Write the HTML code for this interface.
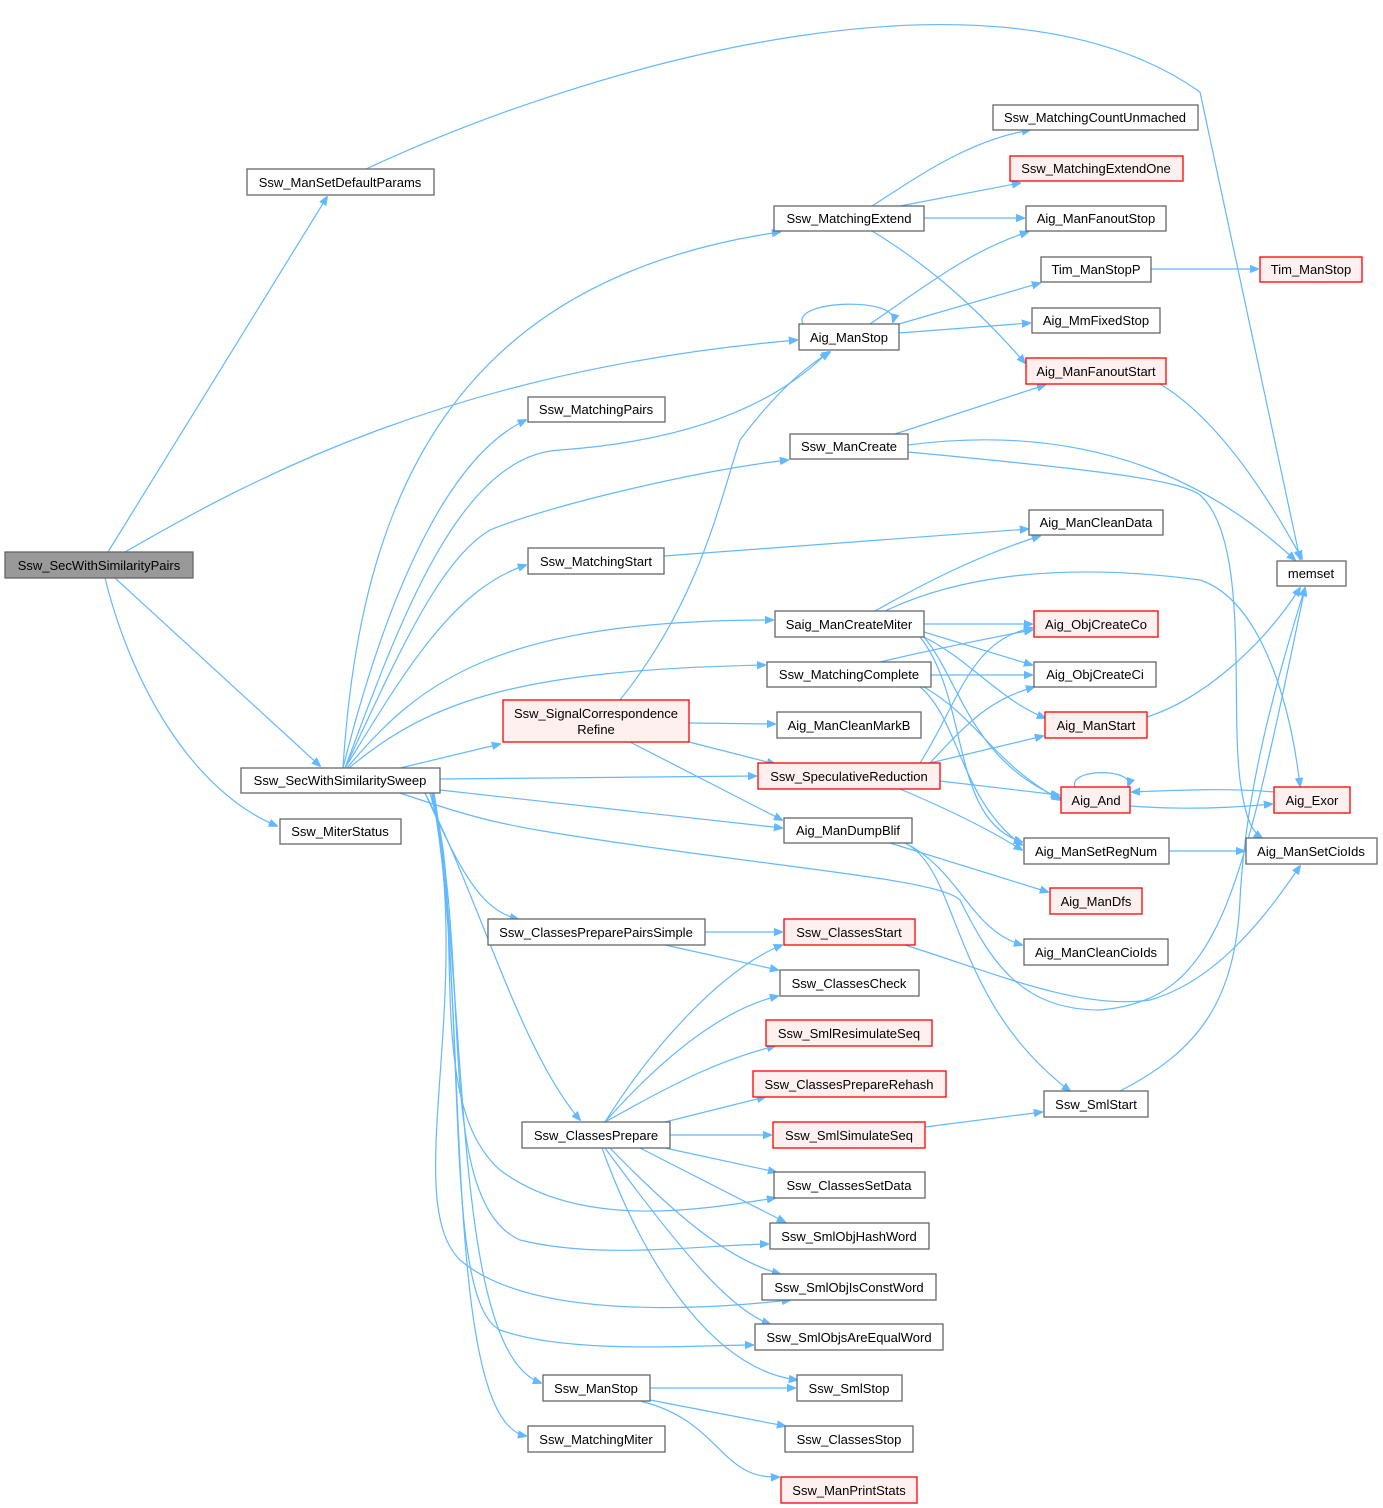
<!DOCTYPE html>
<html><head><meta charset="utf-8"><style>
html,body{margin:0;padding:0;background:#fff;}
svg{display:block;}
text{font-family:"Liberation Sans",Arial,sans-serif;font-size:13px;fill:#000;}
.n{fill:#fff;stroke:#666;stroke-width:1.3;}
.r{fill:#fff0f0;stroke:#ff0000;stroke-width:1.3;}
.g{fill:#999;stroke:#666;stroke-width:1.3;}
path{fill:none;stroke:#63b8ff;stroke-width:1.2;}
</style></head><body>
<svg width="1383" height="1508" viewBox="0 0 1383 1508" xmlns="http://www.w3.org/2000/svg">
<defs><marker id="a" viewBox="0 0 10 10" refX="9" refY="5" markerWidth="9" markerHeight="9" orient="auto" markerUnits="userSpaceOnUse"><path d="M0,1 L10,5 L0,9 z" style="fill:#63b8ff;stroke:#63b8ff"/></marker></defs>
<g marker-end="url(#a)">
<path d="M108,552 L327,197"/>
<path d="M125,552 C250,480 450,370 797,340"/>
<path d="M115,578 L320,766"/>
<path d="M105,578 C130,680 190,790 277,826"/>
<path d="M366,169 C600,60 1000,-50 1200,92 L1300,559"/>
<path d="M343,768 C360,500 450,280 780,232"/>
<path d="M345,768 C400,620 460,455 560,450 C700,440 780,400 828,352"/>
<path d="M343,768 C380,620 440,460 526,420"/>
<path d="M345,768 C400,650 440,560 490,530 C550,505 700,470 788,460"/>
<path d="M345,768 C400,680 450,590 526,565"/>
<path d="M347,768 C420,680 500,620 773,620"/>
<path d="M349,768 C430,700 520,670 765,665"/>
<path d="M400,768 L500,744"/>
<path d="M440,779 L756,776"/>
<path d="M440,790 L782,828"/>
<path d="M400,793 C480,820 500,825 600,840 C800,870 940,880 960,900 C990,960 1020,1010 1100,1010 C1220,1000 1240,900 1305,588"/>
<path d="M425,793 C460,870 480,910 518,919"/>
<path d="M425,793 C480,900 520,1050 580,1120"/>
<path d="M430,793 C470,900 420,1100 500,1170 C580,1230 700,1210 775,1198"/>
<path d="M430,793 C475,950 430,1200 520,1240 C600,1260 700,1245 768,1244"/>
<path d="M432,793 C475,1000 400,1200 460,1260 C530,1320 700,1310 790,1300"/>
<path d="M432,793 C470,1000 440,1300 500,1330 C570,1355 700,1345 753,1345"/>
<path d="M433,793 C470,1000 450,1350 541,1383"/>
<path d="M434,793 C470,1000 440,1420 526,1436"/>
<path d="M620,700 C700,600 720,500 740,440 C770,400 800,370 830,352"/>
<path d="M689,723 L775,724"/>
<path d="M689,742 L775,764"/>
<path d="M630,742 L782,820"/>
<path d="M872,206 C920,175 970,140 1030,130"/>
<path d="M900,206 L1020,183"/>
<path d="M924,218 L1024,218"/>
<path d="M872,231 C920,260 970,300 1025,363"/>
<path d="M803,324 C790,300 900,296 893,322"/>
<path d="M870,324 C920,290 970,250 1028,232"/>
<path d="M899,324 L1040,283"/>
<path d="M899,333 L1030,323"/>
<path d="M1151,269 L1258,269"/>
<path d="M1160,384 C1220,420 1270,500 1302,559"/>
<path d="M895,434 L1045,385"/>
<path d="M908,445 C1100,420 1220,490 1295,560"/>
<path d="M908,452 C1100,470 1180,480 1200,495 C1250,540 1230,700 1240,780 C1245,815 1250,830 1262,838"/>
<path d="M664,556 L1028,529"/>
<path d="M875,611 C930,580 980,555 1040,536"/>
<path d="M885,611 C950,580 1050,560 1200,580 C1260,600 1290,700 1300,786"/>
<path d="M924,624 L1032,624"/>
<path d="M924,632 L1032,665"/>
<path d="M924,637 C970,660 1000,700 1045,718"/>
<path d="M924,637 C960,680 970,760 1060,798"/>
<path d="M920,637 C970,700 950,820 1022,842"/>
<path d="M880,662 C930,650 980,640 1032,630"/>
<path d="M931,675 L1032,675"/>
<path d="M924,687 C980,720 990,760 1060,800"/>
<path d="M920,687 C960,720 960,800 1022,845"/>
<path d="M1147,717 C1200,700 1260,650 1300,588"/>
<path d="M920,763 C960,700 970,640 1032,628"/>
<path d="M930,763 C970,720 990,700 1034,687"/>
<path d="M930,763 L1043,736"/>
<path d="M940,781 L1059,795"/>
<path d="M900,789 C950,810 990,830 1022,850"/>
<path d="M1075,787 C1068,768 1135,768 1128,786"/>
<path d="M1130,806 C1180,810 1230,808 1272,804"/>
<path d="M1274,792 C1230,788 1180,790 1132,792"/>
<path d="M1169,851 L1244,851"/>
<path d="M890,843 L1048,892"/>
<path d="M905,843 C960,870 970,930 1022,945"/>
<path d="M905,843 C960,870 950,1000 1070,1091"/>
<path d="M705,932 L782,932"/>
<path d="M665,945 L778,970"/>
<path d="M905,945 C1000,975 1080,1010 1150,1000 C1220,980 1270,910 1300,866"/>
<path d="M1120,1091 C1200,1050 1235,1000 1240,900 C1245,800 1270,700 1305,588"/>
<path d="M925,1127 L1042,1112"/>
<path d="M605,1122 C650,1050 720,970 782,945"/>
<path d="M605,1122 C660,1060 720,1010 778,996"/>
<path d="M605,1122 C680,1080 720,1060 775,1046"/>
<path d="M665,1122 L765,1097"/>
<path d="M670,1135 L771,1135"/>
<path d="M665,1148 L776,1172"/>
<path d="M640,1148 L785,1222"/>
<path d="M610,1148 C680,1220 730,1260 780,1274"/>
<path d="M605,1148 C680,1250 730,1310 770,1324"/>
<path d="M602,1148 C650,1280 720,1370 797,1380"/>
<path d="M650,1388 L795,1388"/>
<path d="M650,1400 L785,1426"/>
<path d="M640,1401 C720,1420 720,1480 779,1477"/>
</g>
<g text-anchor="middle">
<rect class="g" x="5" y="552" width="188" height="26"/><text x="99" y="570">Ssw_SecWithSimilarityPairs</text>
<rect class="n" x="247" y="169" width="187" height="26"/><text x="340" y="187">Ssw_ManSetDefaultParams</text>
<rect class="n" x="241" y="768" width="199" height="25"/><text x="340" y="785">Ssw_SecWithSimilaritySweep</text>
<rect class="n" x="280" y="819" width="121" height="25"/><text x="340" y="836">Ssw_MiterStatus</text>
<rect class="n" x="993" y="105" width="205" height="25"/><text x="1095" y="122">Ssw_MatchingCountUnmached</text>
<rect class="r" x="1010" y="156" width="173" height="25"/><text x="1096" y="173">Ssw_MatchingExtendOne</text>
<rect class="n" x="774" y="206" width="150" height="25"/><text x="849" y="223">Ssw_MatchingExtend</text>
<rect class="n" x="1026" y="206" width="140" height="25"/><text x="1096" y="223">Aig_ManFanoutStop</text>
<rect class="n" x="1041" y="257" width="110" height="25"/><text x="1096" y="274">Tim_ManStopP</text>
<rect class="r" x="1260" y="257" width="102" height="25"/><text x="1311" y="274">Tim_ManStop</text>
<rect class="n" x="799" y="324" width="100" height="26"/><text x="849" y="342">Aig_ManStop</text>
<rect class="n" x="1032" y="308" width="128" height="25"/><text x="1096" y="325">Aig_MmFixedStop</text>
<rect class="r" x="1026" y="358" width="140" height="26"/><text x="1096" y="376">Aig_ManFanoutStart</text>
<rect class="n" x="528" y="397" width="137" height="25"/><text x="596" y="414">Ssw_MatchingPairs</text>
<rect class="n" x="790" y="434" width="118" height="25"/><text x="849" y="451">Ssw_ManCreate</text>
<rect class="n" x="1029" y="510" width="134" height="25"/><text x="1096" y="527">Aig_ManCleanData</text>
<rect class="n" x="1277" y="561" width="69" height="25"/><text x="1311" y="578">memset</text>
<rect class="n" x="528" y="548" width="136" height="26"/><text x="596" y="566">Ssw_MatchingStart</text>
<rect class="n" x="775" y="611" width="149" height="26"/><text x="849" y="629">Saig_ManCreateMiter</text>
<rect class="r" x="1034" y="611" width="124" height="26"/><text x="1096" y="629">Aig_ObjCreateCo</text>
<rect class="n" x="767" y="662" width="164" height="25"/><text x="849" y="679">Ssw_MatchingComplete</text>
<rect class="n" x="1034" y="662" width="122" height="25"/><text x="1095" y="679">Aig_ObjCreateCi</text>
<rect class="r" x="503" y="700" width="186" height="42"/><text x="596" y="718">Ssw_SignalCorrespondence</text><text x="596" y="734">Refine</text>
<rect class="n" x="777" y="712" width="144" height="26"/><text x="849" y="730">Aig_ManCleanMarkB</text>
<rect class="r" x="1045" y="712" width="102" height="26"/><text x="1096" y="730">Aig_ManStart</text>
<rect class="r" x="758" y="763" width="182" height="26"/><text x="849" y="781">Ssw_SpeculativeReduction</text>
<rect class="r" x="1061" y="787" width="69" height="26"/><text x="1096" y="805">Aig_And</text>
<rect class="r" x="1274" y="787" width="76" height="26"/><text x="1312" y="805">Aig_Exor</text>
<rect class="n" x="784" y="818" width="128" height="25"/><text x="848" y="835">Aig_ManDumpBlif</text>
<rect class="n" x="1024" y="838" width="145" height="26"/><text x="1096" y="856">Aig_ManSetRegNum</text>
<rect class="n" x="1246" y="838" width="131" height="26"/><text x="1311" y="856">Aig_ManSetCioIds</text>
<rect class="r" x="1050" y="888" width="92" height="26"/><text x="1096" y="906">Aig_ManDfs</text>
<rect class="n" x="488" y="919" width="217" height="26"/><text x="596" y="937">Ssw_ClassesPreparePairsSimple</text>
<rect class="r" x="784" y="919" width="131" height="26"/><text x="849" y="937">Ssw_ClassesStart</text>
<rect class="n" x="1024" y="939" width="144" height="26"/><text x="1096" y="957">Aig_ManCleanCioIds</text>
<rect class="n" x="780" y="970" width="139" height="26"/><text x="849" y="988">Ssw_ClassesCheck</text>
<rect class="r" x="766" y="1020" width="166" height="26"/><text x="849" y="1038">Ssw_SmlResimulateSeq</text>
<rect class="r" x="753" y="1071" width="193" height="26"/><text x="849" y="1089">Ssw_ClassesPrepareRehash</text>
<rect class="n" x="1044" y="1091" width="104" height="26"/><text x="1096" y="1109">Ssw_SmlStart</text>
<rect class="n" x="522" y="1122" width="148" height="26"/><text x="596" y="1140">Ssw_ClassesPrepare</text>
<rect class="r" x="773" y="1122" width="152" height="26"/><text x="849" y="1140">Ssw_SmlSimulateSeq</text>
<rect class="n" x="774" y="1172" width="151" height="26"/><text x="849" y="1190">Ssw_ClassesSetData</text>
<rect class="n" x="770" y="1223" width="159" height="26"/><text x="849" y="1241">Ssw_SmlObjHashWord</text>
<rect class="n" x="762" y="1274" width="174" height="26"/><text x="849" y="1292">Ssw_SmlObjIsConstWord</text>
<rect class="n" x="755" y="1324" width="188" height="26"/><text x="849" y="1342">Ssw_SmlObjsAreEqualWord</text>
<rect class="n" x="543" y="1375" width="107" height="26"/><text x="596" y="1393">Ssw_ManStop</text>
<rect class="n" x="797" y="1375" width="105" height="26"/><text x="849" y="1393">Ssw_SmlStop</text>
<rect class="n" x="528" y="1426" width="137" height="26"/><text x="596" y="1444">Ssw_MatchingMiter</text>
<rect class="n" x="785" y="1426" width="128" height="26"/><text x="849" y="1444">Ssw_ClassesStop</text>
<rect class="r" x="781" y="1477" width="136" height="26"/><text x="849" y="1495">Ssw_ManPrintStats</text>
</g>
</svg>
</body></html>
